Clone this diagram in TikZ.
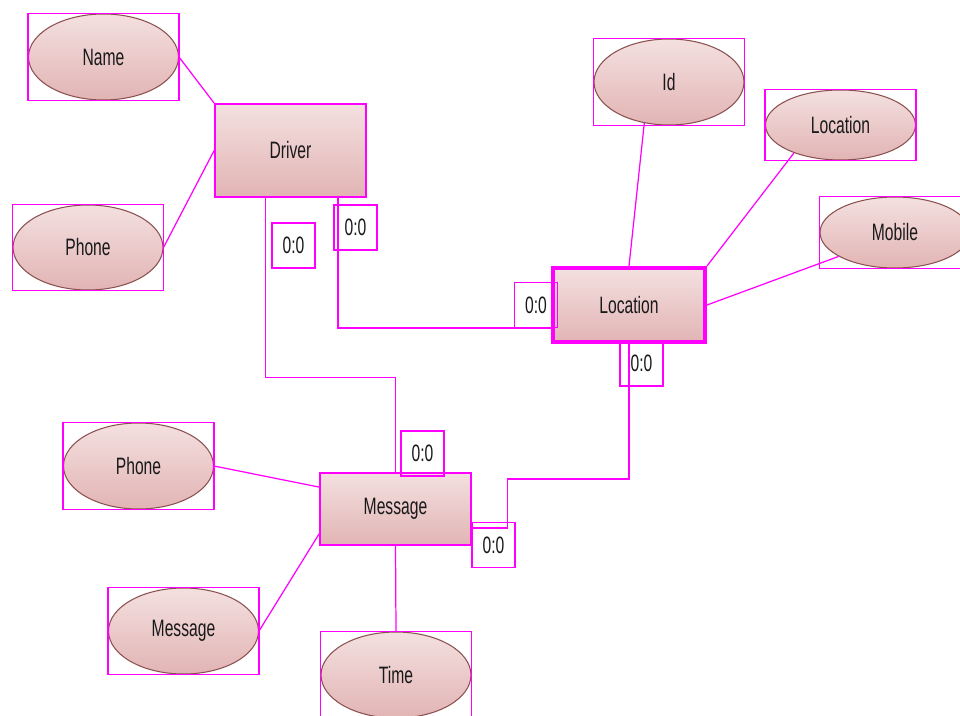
\documentclass[tikz,border=0pt]{standalone}
\usepackage{fontspec}
\setmainfont{Liberation Sans}[FakeStretch=0.66]
\usepackage{tikz}
\usetikzlibrary{shapes,calc}
\definecolor{erpink}{RGB}{255,0,255}
\definecolor{ertop}{RGB}{244,224,224}
\definecolor{erbot}{RGB}{226,180,180}
\definecolor{erline}{RGB}{140,80,80}
\tikzstyle{attr}=[ellipse, draw=erline, line width=.6pt, top color=ertop, bottom color=erbot, minimum width=3cm, inner sep=0pt]
\tikzstyle{entity}=[rectangle, draw=erpink, line width=1pt, top color=ertop, bottom color=erbot, minimum width=3.02cm, inner sep=0pt]
\tikzstyle{selbox}=[draw=erpink, line width=.6pt]
\tikzstyle{rel}=[draw=erpink, line width=.7pt]
\tikzstyle{card}=[draw=erpink, line width=.6pt, minimum width=.86cm, minimum height=.9cm, inner sep=0pt]
\newcommand{\nattr}[4]{
 \node[attr, minimum height=#3] (#1) at #2 {#4};
 \draw[selbox] (#1.west |- #1.north) rectangle (#1.east |- #1.south);
}
\begin{document}
\begin{tikzpicture}[x=.02cm, y=-.02cm, font=\fontsize{13.5}{16}\selectfont, text=black!90]
 \clip (0,0) rectangle (960,716);
 \fill[white] (0,0) rectangle (960,716);
%
 \node[entity, minimum height=1.86cm] (Driver) at (290.5,150.5) {Driver};
 \node[entity, minimum width=3.04cm, minimum height=1.48cm, line width=2.3pt] (Location) at (629,305) {Location};
 \node[entity, minimum height=1.44cm] (Message) at (395.5,509) {Message};
%
 \nattr{Name}{(103.5,57)}{1.72cm}{Name}
 \nattr{Phone}{(88,247.5)}{1.7cm}{Phone}
 \nattr{Id}{(669,82)}{1.72cm}{Id}
 \nattr{LocAttr}{(840.5,125)}{1.4cm}{Location}
 \nattr{Mobile}{(895,232.5)}{1.42cm}{Mobile}
 \nattr{PhoneMsg}{(138.5,466)}{1.72cm}{Phone}
 \nattr{MsgAttr}{(183.5,631)}{1.72cm}{Message}
 \nattr{Time}{(396,675)}{1.72cm}{Time}
%
 \draw[rel] (Name.east) -- (Driver.north west);
 \draw[rel] (Phone.east) -- (Driver.west);
 \draw[rel] (Id.239) -- (Location.north);
 \draw[rel] (LocAttr.211) -- (Location.north east);
 \draw[rel] (Mobile.203) -- (Location.east);
 \draw[rel] (PhoneMsg.east) -- (Message.164);
 \draw[rel] (MsgAttr.east) -- (Message.198);
 \draw[rel] (Message.south) -- (Time.north);
%
 \draw[rel] ([xshift=-.5cm]Driver.south) -- ++(0,180) -| (Message.north);
 \draw[rel] ([xshift=.95cm]Driver.south) |- ([yshift=-.46cm]Location.west);
 \draw[rel] (Location.south) -- ++(0,135) -| ([xshift=.72cm,yshift=-.38cm]Message.east) -- ([yshift=-.38cm]Message.east);
%
 \node[card] (c1) at (293.5,245.5) {0:0};
 \node[card] (c2) at (355.5,227.5) {0:0};
 \node[card] (c3) at (536,305) {0:0};
 \node[card] (c4) at (641.5,363.5) {0:0};
 \node[card] (c5) at (422.5,453.5) {0:0};
 \node[card] (c6) at (493.5,545) {0:0};
\end{tikzpicture}
\end{document}
